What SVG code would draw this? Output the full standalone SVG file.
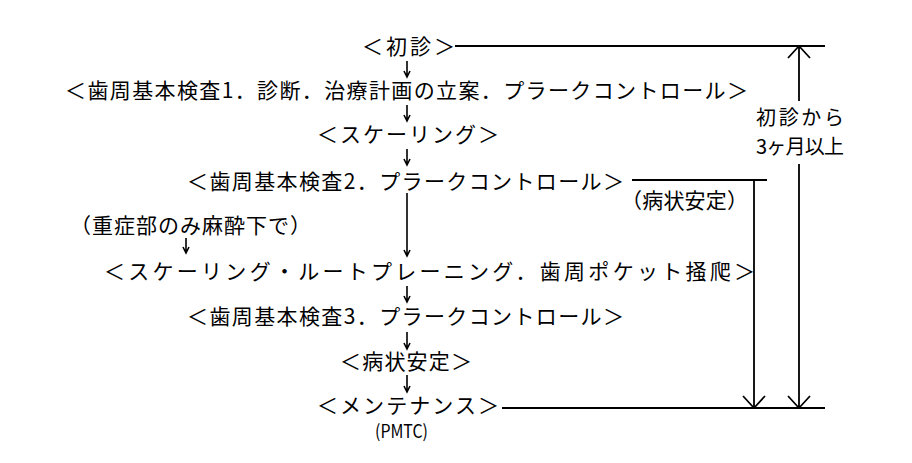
<svg xmlns="http://www.w3.org/2000/svg" width="912" height="463" viewBox="0 0 912 463">
<style>
.t{font-family:"Noto Sans CJK JP","Noto Sans CJK SC",sans-serif;font-size:21px;fill:#000}
.ln{stroke:#000;stroke-width:1.8;fill:none}
.sm{stroke:#000;stroke-width:1.6;fill:none}
</style>
<rect width="912" height="463" fill="#fff"/>
<g id="n1"><text class="t" x="362" y="54" textLength="93">＜初診＞</text></g>
<g id="n2"><text class="t" x="65" y="98" textLength="683">＜歯周基本検査1．診断．治療計画の立案．プラークコントロール＞</text></g>
<g id="n3"><text class="t" x="317" y="142" textLength="182">＜スケーリング＞</text></g>
<g id="n4"><text class="t" x="187" y="189" textLength="437">＜歯周基本検査2．プラークコントロール＞</text></g>
<g id="n5"><text class="t" x="70" y="233" textLength="241">（重症部のみ麻酔下で）</text></g>
<g id="n6"><text class="t" x="104" y="279" textLength="651">＜スケーリング・ルートプレーニング．歯周ポケット掻爬＞</text></g>
<g id="n7"><text class="t" x="187" y="324" textLength="437">＜歯周基本検査3．プラークコントロール＞</text></g>
<g id="n8"><text class="t" x="340" y="369" textLength="132">＜病状安定＞</text></g>
<g id="n9"><text class="t" x="317" y="413" textLength="182">＜メンテナンス＞</text>
<text class="t" x="375" y="438" textLength="53" lengthAdjust="spacingAndGlyphs" style="font-size:18px">(PMTC)</text></g>
<g id="n10"><text class="t" x="621" y="208" textLength="127">（病状安定）</text></g>
<g id="n11"><text class="t" x="756" y="125" textLength="88" style="font-size:20px">初診から</text>
<text class="t" x="756" y="154" textLength="88" style="font-size:20px">3ヶ月以上</text></g>
<g id="connectors">
<path class="sm" d="M407,61V77M404,71L407,77L410,71"/>
<path class="sm" d="M407,105V121M404,115L407,121L410,115"/>
<path class="sm" d="M407,149V165M404,159L407,165L410,159"/>
<path class="sm" d="M407,193V256M404,250L407,256L410,250"/>
<path class="sm" d="M407,286V302M404,296L407,302L410,296"/>
<path class="sm" d="M407,332V349M404,343L407,349L410,343"/>
<path class="sm" d="M407,375V392M404,386L407,392L410,386"/>
<path class="sm" d="M186,238V253M183,247L186,253L189,247"/>
<path class="ln" d="M455,46H825"/>
<path class="ln" d="M502,408H825"/>
<path class="ln" d="M632,180H767"/>
<path class="ln" d="M754,180V408M743,396L754,408L765,396"/>
<path class="ln" d="M799,46V101M788,58L799,46L810,58"/>
<path class="ln" d="M799,164V408M788,396L799,408L810,396"/>
</g>
</svg>
